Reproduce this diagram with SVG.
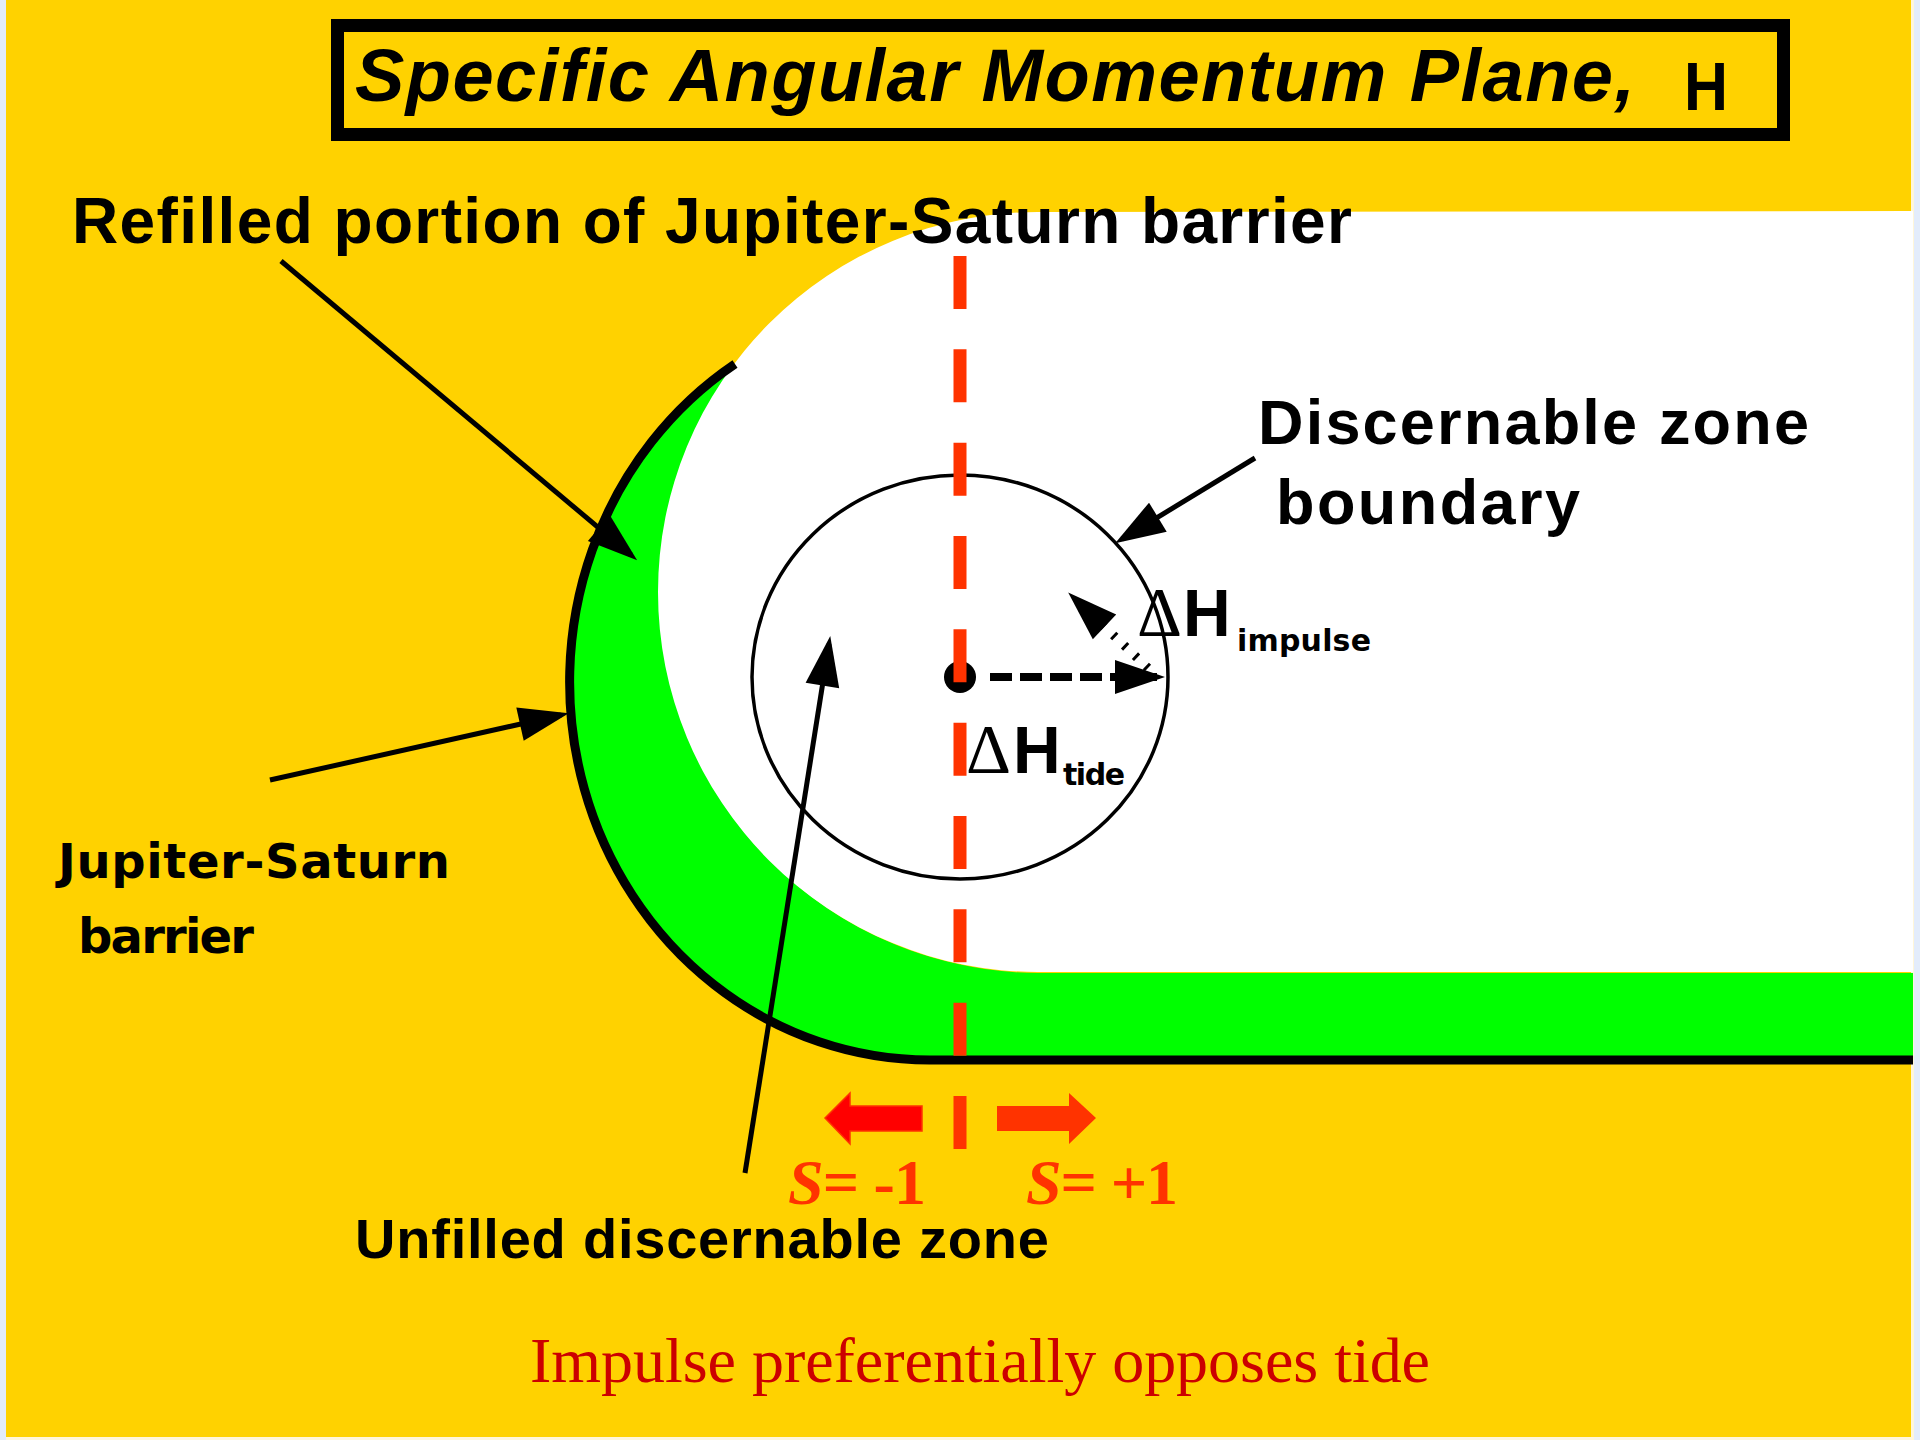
<svg xmlns="http://www.w3.org/2000/svg" width="1920" height="1440" viewBox="0 0 1920 1440">
<defs>
<style>
.lbl{font-family:"Liberation Sans",Arial,sans-serif;font-weight:bold;fill:#000}
.lbl2{font-family:"DejaVu Sans",Verdana,sans-serif;font-weight:bold;fill:#000}
.sub{font-family:"DejaVu Sans",Verdana,sans-serif;font-weight:bold;fill:#000}
.delta{font-family:"Liberation Serif","Times New Roman",serif;fill:#000}
.sval{font-family:"Liberation Serif","Times New Roman",serif;font-weight:bold;fill:#FF3300}
.lead{stroke:#000;stroke-width:5;fill:none}
</style>
<marker id="ah" viewBox="-50 -20 60 40" refX="0" refY="0" markerWidth="60" markerHeight="40" markerUnits="userSpaceOnUse" orient="auto">
<path d="M8,0 L-42,-17 L-42,17 Z" fill="#000"/>
</marker>
</defs>

<g id="background">
<rect x="0" y="0" width="1920" height="1440" fill="#FFF6DA"/>
<rect x="0" y="0" width="6" height="1440" fill="#E3ECFB"/>
<rect x="1914" y="0" width="6" height="1440" fill="#E3ECFB"/>
<rect x="6" y="0" width="1905" height="1437" fill="#FFD200"/>
</g>

<g id="refilled-region">
<path d="M735,364 A360,378 0 0 0 930,1060 L1913,1060 L1913,973 L1038,973 A380,380 0 0 1 741,358 Z" fill="#00FF00"/>
</g>

<g id="unfilled-region">
<path d="M1913,211 L1038,212 A380,380 0 0 0 1038,972 L1913,972 Z" fill="#FFFFFF"/>
</g>

<g id="barrier">
<path d="M735,364 A360,378 0 0 0 930,1060 L1913,1060" fill="none" stroke="#000" stroke-width="9"/>
</g>

<g id="title">
<rect x="337.5" y="25.5" width="1446" height="109" fill="none" stroke="#000" stroke-width="13"/>
<text x="355" y="101" font-family="'Liberation Sans',Arial,sans-serif" font-style="italic" font-weight="bold" font-size="74" textLength="1280" fill="#000">Specific Angular Momentum Plane,</text>
<text x="1684" y="110" font-family="'Liberation Sans',Arial,sans-serif" font-weight="bold" font-size="68" textLength="44" lengthAdjust="spacingAndGlyphs" fill="#000">H</text>
</g>

<g id="discernable-zone">
<ellipse cx="960" cy="677" rx="208" ry="202" fill="none" stroke="#000" stroke-width="3.5"/>
<circle cx="960" cy="677" r="16" fill="#000"/>
</g>

<g id="connectors">
<line class="lead" x1="281" y1="261" x2="631" y2="555" marker-end="url(#ah)"/>
<line class="lead" x1="270" y1="780" x2="561" y2="715" marker-end="url(#ah)"/>
<line class="lead" x1="1255" y1="458" x2="1122" y2="539" marker-end="url(#ah)"/>
<line class="lead" x1="745" y1="1173" x2="829" y2="644" marker-end="url(#ah)"/>
<line x1="990" y1="677" x2="1157" y2="677" stroke="#000" stroke-width="8" stroke-dasharray="22 8" marker-end="url(#ah)"/>
<line x1="1148" y1="668" x2="1074" y2="598" stroke="#000" stroke-width="9" stroke-dasharray="3 12" marker-end="url(#ah)"/>
</g>

<g id="tide-axis">
<line x1="960" y1="256" x2="960" y2="1149" stroke="#FF3300" stroke-width="13" stroke-dasharray="53 40.33"/>
<polygon points="825,1118 850,1093 850,1106 922,1106 922,1131 850,1131 850,1144" fill="#FF0000" stroke="#FF3300" stroke-width="1.5"/>
<polygon points="1096,1118 1069,1093 1069,1106 997,1106 997,1131 1069,1131 1069,1144" fill="#FF3300"/>
</g>

<g id="labels">
<text class="lbl" x="72" y="243" font-size="64" textLength="1280">Refilled portion of Jupiter-Saturn barrier</text>
<text class="lbl" x="1258" y="444" font-size="63" textLength="551">Discernable zone</text>
<text class="lbl" x="1276" y="524" font-size="63" textLength="304">boundary</text>
<text class="lbl2" x="58" y="878" font-size="48" textLength="392">Jupiter-Saturn</text>
<text class="lbl2" x="78" y="953" font-size="48" textLength="176">barrier</text>
<text class="lbl" x="355" y="1258" font-size="56" textLength="694">Unfilled discernable zone</text>
<text class="delta" x="1137" y="636" font-size="70">Δ</text>
<text class="lbl" x="1183" y="636" font-size="66">H</text>
<text class="sub" x="1237" y="651" font-size="30" textLength="134">impulse</text>
<text class="delta" x="966" y="773" font-size="70">Δ</text>
<text class="lbl" x="1013" y="773" font-size="66">H</text>
<text class="sub" x="1063" y="785" font-size="30" textLength="62">tide</text>
<text class="sval" x="788" y="1204" font-size="64" textLength="138"><tspan font-style="italic">S</tspan>= -1</text>
<text class="sval" x="1026" y="1204" font-size="64" textLength="152"><tspan font-style="italic">S</tspan>= +1</text>
<text x="530" y="1382" font-family="'Liberation Serif','Times New Roman',serif" font-size="64" textLength="900" fill="#CC0000">Impulse preferentially opposes tide</text>
</g>
</svg>
